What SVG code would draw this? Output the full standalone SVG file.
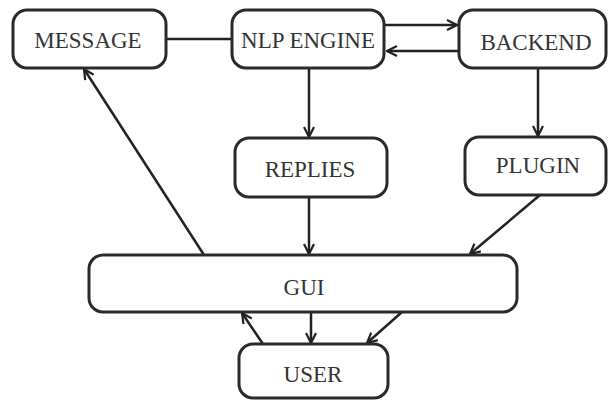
<svg xmlns="http://www.w3.org/2000/svg" width="609" height="401" viewBox="0 0 609 401">
<style>
.box{fill:#fff;stroke:#2a2a2a;stroke-width:3}
.lbl{font-family:"Liberation Serif","Times New Roman",serif;font-size:23px;fill:#333;text-anchor:middle}
.edge{fill:none;stroke:#222;stroke-width:2.5}
</style>
<defs>
<marker id="arr" viewBox="0 0 12 12" refX="11" refY="6" markerWidth="12" markerHeight="12" markerUnits="userSpaceOnUse" orient="auto">
<path d="M1,1 L11,6 L1,11" fill="none" stroke="#222" stroke-width="2.2"/>
</marker>
</defs>
<rect width="609" height="401" fill="#fff"/>
<g id="connectors">
<line class="edge" x1="166" y1="39" x2="232" y2="39"/>
<line class="edge" x1="385" y1="25" x2="457" y2="25" marker-end="url(#arr)"/>
<line class="edge" x1="459" y1="51" x2="387" y2="51" marker-end="url(#arr)"/>
<line class="edge" x1="309" y1="68" x2="309" y2="137" marker-end="url(#arr)"/>
<line class="edge" x1="538" y1="68" x2="538" y2="136" marker-end="url(#arr)"/>
<line class="edge" x1="309" y1="197" x2="309" y2="254" marker-end="url(#arr)"/>
<line class="edge" x1="540" y1="195" x2="470" y2="254" marker-end="url(#arr)"/>
<line class="edge" x1="204" y1="255" x2="84" y2="69" marker-end="url(#arr)"/>
<line class="edge" x1="263" y1="344" x2="242" y2="313" marker-end="url(#arr)"/>
<line class="edge" x1="311" y1="312" x2="311" y2="343" marker-end="url(#arr)"/>
<line class="edge" x1="402" y1="312" x2="367" y2="343" marker-end="url(#arr)"/>
</g>
<g id="message"><rect class="box" x="13" y="10" width="153" height="58" rx="14"/><text class="lbl" x="88" y="48">MESSAGE</text></g>
<g id="nlp"><rect class="box" x="232" y="10" width="152" height="58" rx="14"/><text class="lbl" x="308" y="48">NLP ENGINE</text></g>
<g id="backend"><rect class="box" x="459" y="10" width="147" height="58" rx="14"/><text class="lbl" x="536" y="50">BACKEND</text></g>
<g id="replies"><rect class="box" x="235" y="138" width="152" height="59" rx="14"/><text class="lbl" x="310" y="177">REPLIES</text></g>
<g id="plugin"><rect class="box" x="465" y="137" width="141" height="58" rx="14"/><text class="lbl" x="538" y="173">PLUGIN</text></g>
<g id="gui"><rect class="box" x="89" y="255" width="428" height="57" rx="14"/><text class="lbl" x="304" y="295">GUI</text></g>
<g id="user"><rect class="box" x="239" y="344" width="149" height="54" rx="14"/><text class="lbl" x="313" y="382">USER</text></g>
</svg>
